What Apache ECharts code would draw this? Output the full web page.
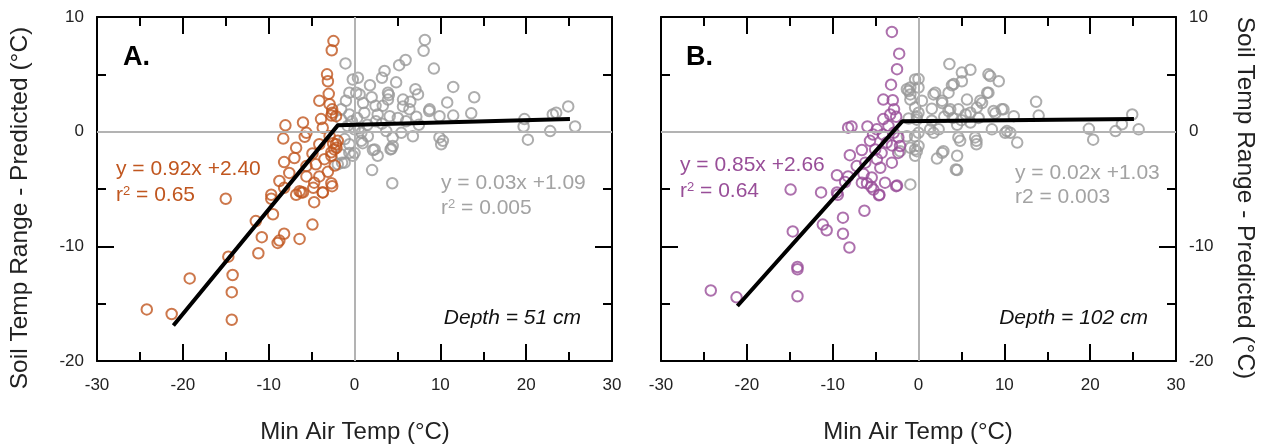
<!DOCTYPE html>
<html>
<head>
<meta charset="utf-8">
<script src="https://cdn.jsdelivr.net/npm/echarts@6/dist/echarts.min.js"></script>
<style>html,body{margin:0;padding:0;background:#fff;}#c{width:1262px;height:444px;}</style>
</head>
<body>
<div id="c"></div>
<script>
// ---------- DATA ----------
const xTicks = [-30, 30, 10];   // min, max, interval
const yTicks = [-20, 10, 10];

// Panel A (Depth = 51 cm)
const coldA = [[-24.2,-15.5],[-21.3,-15.9],[-19.2,-12.8],[-15.0,-5.85],[-14.7,-10.9],[-14.2,-12.5],[-14.3,-14.0],[-14.3,-16.4],[-11.5,-7.8],[-10.8,-9.2],[-11.2,-10.6],[-9.7,-5.85],[-9.5,-7.2],[-8.95,-9.7],[-8.75,-9.5],[-8.2,-8.9],[-6.4,-9.35],[-8.2,-4.9],[-6.8,-5.5],[-6.2,-5.3],[-4.8,-4.9],[-4.7,-6.15],[-3.7,-5.3],[-2.6,-4.75],[-4.9,-8.1],
[-2.45,7.9],[-2.65,7.1],[-3.2,5.0],[-3.1,4.4],[-3.0,3.3],[-4.1,2.7],[-2.9,2.4],[-2.6,1.95],[-2.7,1.4],[-3.9,1.1],[-6.0,0.8],[-8.05,0.55],[-3.7,0.35],[-5.6,-0.1],[-8.3,-0.6],[-5.8,-0.45],[-2.9,-0.4],[-2.5,-1.0],[-4.1,-1.1],[-6.8,-1.4],[-2.1,-1.4],[-2.7,-1.8],[-4.9,-1.9],[-7.0,-2.3],[-8.2,-2.65],[-3.5,-2.4],[-4.5,-2.85],[-5.6,-3.0],[-2.3,-2.95],[-7.6,-3.6],[-3.1,-3.5],[-5.6,-3.9],[-4.1,-3.9],[-8.75,-4.3],[-4.7,-4.45],[-2.7,-4.5],[-6.4,-5.2],[-6.0,-5.3],[-3.7,-5.3],[-9.7,-5.5],[-2.15,1.35],[-2.6,1.65],[-1.95,-0.8],[-2.15,-1.1],[-2.35,-1.55],[-2.7,-2.1]];
const warmA = [[8.2,8.0],[8.05,7.05],[5.95,6.25],[5.2,5.8],[9.25,5.5],[-1.05,5.95],[-0.2,4.55],[3.5,5.3],[3.2,4.7],[4.85,4.3],[1.8,4.05],[7.1,3.7],[7.4,3.25],[11.5,3.9],[13.95,3.0],[10.8,2.55],[13.6,1.6],[11.5,1.4],[9.9,1.35],[8.7,1.8],[0.6,3.25],[-0.6,3.4],[4.0,3.2],[5.65,2.8],[2.45,2.25],[19.8,1.1],[19.7,0.45],[20.2,-0.7],[22.8,0.05],[23.1,1.5],[23.5,1.65],[24.9,2.2],[25.7,0.45],[9.9,-0.5],[10.3,-0.8],[10.1,-1.1],[4.3,-1.5],[4.45,-1.25],[2.15,-1.6],[2.7,-2.1],[2.05,-3.35],[4.4,-4.5],[-0.2,-2.1],[0.8,-0.8],[-1.45,-2.7],[6.8,-0.4],
[0.4,4.7],[3.9,3.4],[0.2,3.4],[3.9,2.8],[3.3,2.25],[5.65,2.2],[6.4,1.95],[8.75,1.95],[1.15,1.65],[2.7,1.5],[4.1,1.35],[5.05,1.2],[7.2,1.3],[0.3,1.2],[0.8,-0.1],[1.55,-0.4],[3.7,0.05],[5.45,-0.1],[4.45,-0.5],[0.95,-1.0],[2.35,-1.55],[4.2,-1.55],[0,-1.85],
[-1.0,2.7],[-1.55,1.95],[-0.6,1.5],[-1.55,1.05],[-0.8,0.5],[-1.15,-0.65],[-0.6,-1.1],[-1.55,-2.0],[-1.15,-2.7],[-1.95,-2.85],[-0.6,-1.85],[0,0.2],
[1.5,0.6],[2.5,0.9],[3.2,0.7],[6.0,0.9],[7.5,0.6],[1.0,2.5],[2.0,3.0],[6.5,2.6],[-0.3,0.9],[0.5,0.3]];
const fitA = [[-21.1,-16.9],[-1.95,0.55],[25.1,1.1]];

// Panel B (Depth = 102 cm)
const coldB = [[-3.1,8.7],[-2.25,6.8],[-2.5,5.45],[-3.2,4.1],[-4.1,2.8],[-3.0,2.75],[-2.85,1.95],[-3.3,1.5],[-2.6,1.3],[-4.1,1.1],[-8.2,0.35],[-7.8,0.45],[-5.95,0.45],[-4.85,0.2],[-3.5,0.5],[-5.3,-0.25],[-4.15,-0.25],[-2.9,-0.1],[-2.35,-0.5],[-5.65,-0.8],[-3.7,-0.95],[-3.1,-1.2],[-2.15,-1.25],[-6.6,-1.6],[-5.05,-1.55],[-4.3,-1.85],[-2.35,-1.85],[-8.0,-2.05],[-4.85,-2.4],[-6.2,-2.7],[-7.2,-3.0],[-3.1,-2.7],[-4.45,-3.15],[-9.5,-3.8],[-8.2,-3.9],[-6.4,-3.7],[-5.45,-4.0],[-8.55,-4.4],[-6.6,-4.45],[-6.0,-4.5],[-3.9,-4.45],[-2.5,-4.7],[-5.25,-5.05],[-9.5,-5.3],[-4.55,-5.5],
[-24.2,-13.85],[-21.2,-14.45],[-14.9,-5.05],[-14.65,-8.7],[-14.1,-11.8],[-14.1,-12.0],[-14.1,-14.35],[-11.35,-5.3],[-11.15,-8.1],[-10.7,-8.6],[-9.4,-5.5],[-8.8,-7.5],[-8.8,-8.9],[-8.05,-10.1],[-6.3,-6.9],[-5.5,-4.8],[-4.6,-5.55],[-2.6,-4.75]];
const warmB = [[3.6,5.9],[5.05,5.15],[6.05,5.4],[5.05,4.4],[3.9,4.05],[8.15,5.0],[8.35,4.85],[9.35,4.4],[0,4.6],[8.15,3.4],[-1.35,3.7],[-0.95,3.25],[1.75,3.25],[2.75,2.7],[5.65,2.8],[7.2,2.7],[13.7,2.6],[1.55,2.0],[3.7,1.95],[6.8,2.1],[8.95,1.6],[9.9,1.95],[11.1,1.35],[14.0,1.4],[0,1.65],[-1.15,1.15],[24.9,1.5],[19.85,0.25],[20.35,-0.7],[22.95,0.05],[23.7,0.65],[25.65,0.2],[11.5,-0.95],[10.7,-0.1],[1.55,0.95],[6.05,0.8],[8.55,0.2],[10.3,0.05],[1.75,-0.1],[4.85,-0.8],[6.75,-0.8],[6.75,-1.1],[0,-1.25],[-0.4,-1.55],[2.75,-1.85],[2.15,-2.35],[4.5,-2.1],[4.5,-3.35],[-0.95,-4.6],
[4.1,4.15],[1.95,3.4],[3.5,3.4],[8.0,3.4],[0,3.85],[0.4,2.7],[2.75,2.5],[7.4,2.5],[8.75,1.8],[9.7,1.95],[3.5,1.8],[4.65,1.95],[6.05,1.65],[-0.2,1.35],[1.35,0.2],[2.35,0.2],[4.65,-0.5],[6.6,-0.5],[10.1,-0.1],[0,-0.1],[-0.2,-1.7],[2.9,-1.7],[4.35,-3.3],
[-0.95,3.85],[-1.15,3.55],[-0.4,4.55],[-0.95,2.8],[-0.4,2.1],[-0.2,1.05],[-1.35,-0.4],[-0.4,-0.4],[-2.15,-1.7],[-0.95,-1.4],[-0.4,-2.1],
[4.0,1.2],[5.0,1.0],[3.0,1.3],[7.0,1.2],[5.5,1.5],[4.5,0.6]];
const fitB = [[-21.1,-15.2],[-1.9,0.9],[25.1,1.1]];

const xTitle = 'Min Air Temp (°C)';
const yTitle = 'Soil Temp Range - Predicted (°C)';

// ---------- STYLE ----------
const FONT = 'Liberation Sans, Arial, sans-serif';
const ORANGE = '#C0561F', PURPLE = '#984E98', GRAY = '#999999', TGRAY = '#A3A3A3';
const chart = echarts.init(document.getElementById('c'), null, {renderer: 'canvas'});

const grids = [
  {left: 97, top: 17, width: 515, height: 344},
  {left: 661, top: 17, width: 515, height: 344}
];

function axBase(min, max, interval, g, pos, labels) {
  return {
    type: 'value', gridIndex: g, position: pos, min: min, max: max, interval: interval,
    axisLine: {onZero: false, lineStyle: {color: '#000', width: 2}},
    axisTick: {inside: true, length: 17, lineStyle: {color: '#000', width: 2}},
    minorTick: {show: true, splitNumber: 2, length: 9, lineStyle: {color: '#000', width: 2}},
    axisLabel: {show: labels, fontSize: 17, fontFamily: FONT, color: '#222', margin: 13},
    splitLine: {show: false}
  };
}
function xAx(g, pos, labels) {
  const a = axBase(xTicks[0], xTicks[1], xTicks[2], g, pos, labels);
  a.axisLabel.margin = 16;
  return a;
}
function yAx(g, pos, labels) { return axBase(yTicks[0], yTicks[1], yTicks[2], g, pos, labels); }

function scatter(xi, yi, data, color) {
  return {
    type: 'scatter', xAxisIndex: xi, yAxisIndex: yi, data: data,
    symbol: 'circle', symbolSize: 10.5, z: 3,
    itemStyle: {color: 'rgba(0,0,0,0)', borderColor: color, borderWidth: 2}
  };
}
function refLines(xi, yi) {
  return {
    type: 'line', xAxisIndex: xi, yAxisIndex: yi, data: [], z: 1,
    markLine: {silent: true, symbol: 'none', label: {show: false},
      lineStyle: {color: '#B3B3B3', width: 2, type: 'solid'},
      data: [{xAxis: 0}, {yAxis: 0}]}
  };
}
function fit(xi, yi, data) {
  return {
    type: 'line', xAxisIndex: xi, yAxisIndex: yi, data: data, z: 5,
    symbol: 'none', lineStyle: {color: '#000', width: 4}
  };
}

function txt(x, y, text, opts) {
  return {
    type: 'text', x: x, y: y, rotation: opts.rot || 0, z: 10,
    style: Object.assign({
      text: text, x: 0, y: 0, fontFamily: FONT, fontSize: 21, fill: '#222',
      textAlign: opts.align || 'left', textVerticalAlign: 'middle'
    }, opts.style || {})
  };
}
function r2(x, y, value, color) {
  return txt(x, y, '', {style: {fill: color, text: '{a|r}{s|2}{a| = ' + value + '}',
    rich: {a: {fontSize: 21, fontFamily: FONT, fill: color},
           s: {fontSize: 13, fontFamily: FONT, fill: color, padding: [0, 0, 8, 0]}}}});
}

const option = {
  animation: false,
  backgroundColor: '#fff',
  grid: grids,
  xAxis: [xAx(0, 'bottom', true), xAx(0, 'top', false), xAx(1, 'bottom', true), xAx(1, 'top', false)],
  yAxis: [yAx(0, 'left', true), yAx(0, 'right', false), yAx(1, 'left', false), yAx(1, 'right', true)],
  series: [
    refLines(0, 0),
    scatter(0, 0, warmA, GRAY),
    scatter(0, 0, coldA, ORANGE),
    fit(0, 0, fitA),
    refLines(2, 2),
    scatter(2, 2, warmB, GRAY),
    scatter(2, 2, coldB, PURPLE),
    fit(2, 2, fitB)
  ],
  graphic: [
    txt(123, 58, 'A.', {style: {fontSize: 27, fontWeight: 'bold', fill: '#000'}}),
    txt(686, 58, 'B.', {style: {fontSize: 27, fontWeight: 'bold', fill: '#000'}}),
    txt(116, 169, 'y = 0.92x +2.40', {style: {fill: ORANGE}}),
    r2(116, 195, '0.65', ORANGE),
    txt(441, 183, 'y = 0.03x +1.09', {style: {fill: TGRAY}}),
    r2(441, 208, '0.005', TGRAY),
    txt(581, 318, 'Depth = 51 cm', {align: 'right', style: {fontStyle: 'italic', fontSize: 21, fill: '#111'}}),
    txt(680, 165, 'y = 0.85x +2.66', {style: {fill: PURPLE}}),
    r2(680, 191, '0.64', PURPLE),
    txt(1015, 173, 'y = 0.02x +1.03', {style: {fill: TGRAY}}),
    txt(1015, 197, 'r2 = 0.003', {style: {fill: TGRAY}}),
    txt(1148, 318, 'Depth = 102 cm', {align: 'right', style: {fontStyle: 'italic', fontSize: 21, fill: '#111'}}),
    txt(355, 432, xTitle, {align: 'center', style: {fontSize: 24}}),
    txt(918, 432, xTitle, {align: 'center', style: {fontSize: 24}}),
    txt(20, 208, yTitle, {align: 'center', rot: Math.PI / 2, style: {fontSize: 24.5}}),
    txt(1245, 198, yTitle, {align: 'center', rot: -Math.PI / 2, style: {fontSize: 24.5}})
  ]
};
chart.setOption(option);
</script>
</body>
</html>
